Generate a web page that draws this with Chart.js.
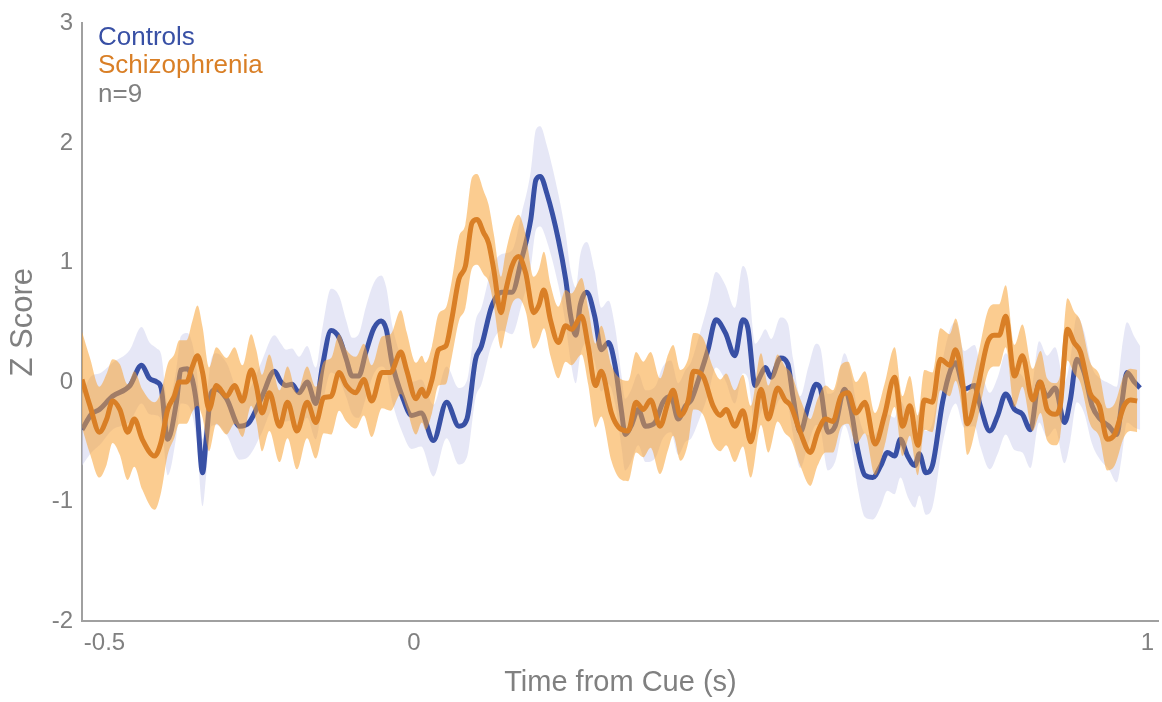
<!DOCTYPE html>
<html>
<head>
<meta charset="utf-8">
<script src="https://cdn.jsdelivr.net/npm/chart.js@4.4.1/dist/chart.umd.min.js"></script>
<style>
  html, body { margin: 0; padding: 0; background: #fff; }
  #wrap { width: 1162px; height: 702px; position: relative; }
</style>
</head>
<body>
<div id="wrap"><canvas id="zChart"></canvas></div>
<script>
// Controls: mean z score and SEM
const controlsTime = [
  -0.457,-0.444,-0.433,-0.415,-0.391,-0.375,-0.364,-0.354,-0.348,-0.339,
  -0.327,-0.321,-0.312,-0.305,-0.299,-0.291,-0.286,-0.279,-0.272,-0.258,
  -0.240,-0.227,-0.209,-0.192,-0.183,-0.176,-0.168,-0.158,-0.147,-0.135,
  -0.126,-0.114,-0.103,-0.093,-0.085,-0.076,-0.066,-0.055,-0.045,-0.038,
  -0.030,-0.016,-0.003,0.010,0.027,0.045,0.062,0.073,0.085,0.093,
  0.107,0.121,0.135,0.148,0.161,0.168,0.174,0.183,0.199,0.209,
  0.216,0.223,0.229,0.238,0.249,0.258,0.268,0.277,0.286,0.291,
  0.299,0.309,0.319,0.332,0.343,0.354,0.364,0.374,0.382,0.392,
  0.405,0.416,0.429,0.442,0.453,0.460,0.470,0.477,0.484,0.492,
  0.505,0.515,0.522,0.532,0.543,0.554,0.560,0.570,0.580,0.593,
  0.602,0.611,0.621,0.632,0.643,0.652,0.662,0.670,0.680,0.690,
  0.696,0.705,0.714,0.728,0.739,0.746,0.758,0.772,0.780,0.793,
  0.804,0.815,0.827,0.838,0.849,0.861,0.872,0.883,0.896,0.904,
  0.913,0.923,0.934,0.945,0.957,0.968,0.975,0.982,0.992,1.000
];
const controlsZ = [
  -0.40,-0.27,-0.23,-0.12,-0.03,0.14,0.03,0.00,-0.05,-0.48,
  -0.17,0.10,0.11,0.02,-0.20,-0.76,-0.48,-0.09,-0.06,-0.14,
  -0.37,-0.34,-0.12,0.09,0.00,-0.03,-0.02,-0.09,0.00,-0.18,
  0.13,0.43,0.37,0.19,0.05,0.05,0.25,0.45,0.51,0.44,
  0.16,-0.12,-0.28,-0.26,-0.49,-0.17,-0.37,-0.31,0.19,0.30,
  0.63,0.75,0.75,1.02,1.36,1.69,1.72,1.58,1.19,0.86,
  0.55,0.39,0.64,0.75,0.55,0.27,0.33,0.14,-0.25,-0.44,
  -0.37,-0.23,-0.37,-0.34,-0.17,-0.12,-0.31,-0.20,-0.15,0.02,
  0.27,0.52,0.41,0.22,0.52,0.45,-0.03,0.05,0.12,0.04,
  0.20,0.15,-0.12,-0.42,-0.20,-0.02,-0.06,-0.42,-0.37,-0.06,
  -0.23,-0.56,-0.78,-0.80,-0.70,-0.59,-0.62,-0.48,-0.62,-0.70,
  -0.60,-0.76,-0.70,-0.17,0.10,0.16,-0.06,-0.03,-0.20,-0.41,
  -0.28,-0.10,-0.23,-0.27,-0.40,0.00,-0.12,-0.05,-0.34,-0.15,
  0.19,0.08,-0.20,-0.31,-0.37,-0.44,-0.17,0.08,0.00,-0.05
];
const controlsSem = [
  0.30,0.32,0.30,0.28,0.30,0.32,0.30,0.28,0.28,0.30,
  0.28,0.28,0.30,0.30,0.30,0.28,0.30,0.28,0.30,0.30,
  0.28,0.28,0.30,0.30,0.32,0.30,0.30,0.30,0.30,0.30,
  0.32,0.35,0.35,0.32,0.32,0.35,0.38,0.38,0.38,0.35,
  0.32,0.30,0.28,0.28,0.30,0.30,0.32,0.32,0.32,0.32,
  0.32,0.32,0.35,0.38,0.40,0.42,0.42,0.40,0.38,0.38,
  0.38,0.40,0.42,0.42,0.38,0.35,0.35,0.32,0.30,0.30,
  0.30,0.30,0.30,0.30,0.30,0.30,0.30,0.30,0.32,0.35,
  0.38,0.40,0.40,0.40,0.45,0.42,0.35,0.32,0.32,0.32,
  0.34,0.34,0.32,0.30,0.32,0.34,0.34,0.32,0.30,0.30,
  0.30,0.32,0.35,0.35,0.34,0.32,0.32,0.32,0.34,0.35,
  0.35,0.35,0.35,0.35,0.35,0.34,0.32,0.34,0.34,0.32,
  0.32,0.34,0.34,0.32,0.32,0.34,0.34,0.34,0.34,0.34,
  0.36,0.34,0.32,0.34,0.36,0.40,0.45,0.42,0.38,0.35
];

// Schizophrenia: mean z score and SEM
const schizTime = [
  -0.457,-0.446,-0.433,-0.423,-0.415,-0.405,-0.394,-0.385,-0.374,-0.357,
  -0.348,-0.339,-0.330,-0.323,-0.313,-0.305,-0.298,-0.291,-0.282,-0.272,
  -0.258,-0.247,-0.236,-0.224,-0.217,-0.209,-0.199,-0.185,-0.174,-0.161,
  -0.147,-0.135,-0.124,-0.114,-0.103,-0.093,-0.080,-0.069,-0.058,-0.044,
  -0.032,-0.018,-0.010,0.003,0.011,0.016,0.025,0.034,0.044,0.052,
  0.062,0.071,0.080,0.087,0.096,0.103,0.110,0.120,0.126,0.135,
  0.144,0.154,0.165,0.172,0.179,0.188,0.199,0.209,0.217,0.231,
  0.240,0.250,0.258,0.272,0.282,0.295,0.306,0.316,0.326,0.339,
  0.350,0.357,0.367,0.378,0.385,0.398,0.412,0.422,0.430,0.442,
  0.453,0.464,0.478,0.488,0.501,0.511,0.519,0.532,0.546,0.556,
  0.567,0.577,0.588,0.598,0.609,0.621,0.635,0.648,0.662,0.673,
  0.683,0.694,0.703,0.714,0.725,0.738,0.746,0.755,0.762,0.776,
  0.790,0.799,0.806,0.815,0.827,0.838,0.852,0.863,0.872,0.883,
  0.890,0.900,0.909,0.918,0.931,0.944,0.955,0.965,0.978,0.987,
  0.996
];
const schizZ = [
  0.02,-0.20,-0.42,-0.31,-0.16,-0.23,-0.42,-0.31,-0.48,-0.62,
  -0.50,-0.23,-0.12,0.00,0.00,0.13,0.22,0.08,-0.23,-0.03,
  -0.12,-0.03,-0.16,0.10,-0.03,-0.26,-0.09,-0.37,-0.17,-0.41,
  -0.17,-0.34,-0.13,-0.12,0.08,-0.03,-0.09,0.02,-0.16,0.08,
  0.08,0.25,0.10,-0.14,-0.06,-0.12,0.02,0.27,0.30,0.52,
  0.86,0.97,1.33,1.36,1.25,1.16,0.94,0.58,0.75,0.97,
  1.05,0.91,0.58,0.64,0.77,0.52,0.33,0.47,0.44,0.55,
  0.30,-0.03,0.09,-0.26,-0.38,-0.41,-0.17,-0.23,-0.15,-0.37,
  -0.17,-0.07,-0.28,-0.15,0.09,0.05,-0.20,-0.28,-0.23,-0.37,
  -0.24,-0.50,-0.06,-0.31,-0.05,-0.15,-0.20,-0.42,-0.59,-0.42,
  -0.31,-0.33,-0.12,-0.09,-0.26,-0.17,-0.52,-0.28,0.04,-0.37,
  -0.20,-0.53,-0.15,-0.17,0.19,0.14,0.27,0.02,-0.35,-0.06,
  0.33,0.39,0.39,0.55,0.05,0.22,-0.15,0.00,-0.23,-0.27,
  -0.20,0.44,0.33,0.25,-0.09,-0.20,-0.48,-0.44,-0.20,-0.15,
  -0.16
];
const schizSem = [
  0.40,0.40,0.38,0.38,0.35,0.38,0.40,0.40,0.42,0.45,
  0.42,0.38,0.35,0.35,0.35,0.38,0.42,0.38,0.35,0.32,
  0.32,0.32,0.30,0.30,0.30,0.32,0.32,0.30,0.30,0.32,
  0.30,0.30,0.30,0.32,0.32,0.30,0.30,0.30,0.30,0.30,
  0.32,0.35,0.32,0.30,0.28,0.28,0.28,0.30,0.32,0.32,
  0.35,0.35,0.38,0.38,0.35,0.32,0.30,0.30,0.32,0.32,
  0.35,0.32,0.30,0.30,0.32,0.30,0.30,0.30,0.30,0.32,
  0.32,0.35,0.38,0.40,0.42,0.42,0.42,0.40,0.40,0.40,
  0.40,0.38,0.38,0.35,0.32,0.32,0.32,0.30,0.30,0.30,
  0.30,0.30,0.30,0.28,0.28,0.28,0.28,0.28,0.28,0.28,
  0.28,0.26,0.26,0.26,0.26,0.26,0.26,0.26,0.25,0.25,
  0.25,0.25,0.25,0.25,0.26,0.26,0.26,0.26,0.26,0.26,
  0.26,0.26,0.26,0.26,0.26,0.26,0.26,0.26,0.26,0.26,
  0.26,0.26,0.26,0.26,0.26,0.26,0.26,0.26,0.26,0.26,
  0.26
];

const xTickValues = [-0.426, 0, 1.01];   // where the figure prints its x labels
const xTickLabels = ['-0.5', '0', '1'];
const legendLabels = ['Controls', 'Schizophrenia', 'n=9'];

const BLUE = '#3850a5';
const ORANGE = '#d97f26';
const GREY = '#808080';
const FONT = '"Liberation Sans", Arial, sans-serif';

function pts(time, vals) {
  return time.map((t, i) => ({ x: t, y: vals[i] }));
}
function band(time, mean, sem, sign) {
  return time.map((t, i) => ({ x: t, y: mean[i] + sign * sem[i] }));
}

const lineBase = { pointRadius: 0, cubicInterpolationMode: 'monotone' };

// legend text in the upper-left corner
const cornerText = {
  id: 'cornerText',
  afterDraw(chart) {
    const { ctx, chartArea } = chart;
    const colors = [BLUE, ORANGE, GREY];
    ctx.save();
    ctx.font = '26px ' + FONT;
    ctx.textBaseline = 'middle';
    legendLabels.forEach((txt, i) => {
      ctx.fillStyle = colors[i];
      ctx.fillText(txt, chartArea.left + 16, chartArea.top + 14 + i * 28.5);
    });
    ctx.restore();
  }
};

new Chart(document.getElementById('zChart'), {
  type: 'line',
  data: {
    datasets: [
      { ...lineBase, data: band(controlsTime, controlsZ, controlsSem, -1), borderWidth: 0, fill: false, order: 5 },
      { ...lineBase, data: band(controlsTime, controlsZ, controlsSem, 1), borderWidth: 0,
        fill: 0, backgroundColor: 'rgba(205,208,238,0.5)', order: 4 },
      { ...lineBase, label: 'Controls', data: pts(controlsTime, controlsZ), borderColor: BLUE, borderWidth: 5, fill: false, order: 3 },
      { ...lineBase, data: band(schizTime, schizZ, schizSem, -1), borderWidth: 0, fill: false, order: 2 },
      { ...lineBase, data: band(schizTime, schizZ, schizSem, 1), borderWidth: 0,
        fill: 3, backgroundColor: 'rgba(247,162,52,0.55)', order: 1 },
      { ...lineBase, label: 'Schizophrenia', data: pts(schizTime, schizZ), borderColor: ORANGE, borderWidth: 5, fill: false, order: 0 }
    ]
  },
  options: {
    responsive: true,
    maintainAspectRatio: false,
    animation: false,
    layout: { padding: { top: 20, right: 0, left: 0, bottom: 0 } },
    plugins: { legend: { display: false }, tooltip: { enabled: false } },
    scales: {
      x: {
        type: 'linear',
        min: -0.457,
        max: 1.026,
        grid: { display: false, drawTicks: false },
        border: { color: '#a0a0a0', width: 2 },
        afterBuildTicks: s => { s.ticks = xTickValues.map(v => ({ value: v })); },
        afterFit: s => { s.height = 81; },
        ticks: {
          autoSkip: false, maxRotation: 0, padding: 8,
          color: GREY, font: { size: 24, family: FONT },
          callback: (v, i) => xTickLabels[i]
        },
        title: {
          display: true, text: 'Time from Cue (s)', color: GREY,
          font: { size: 29, family: FONT }, padding: { top: 0, bottom: 2 }
        }
      },
      y: {
        min: -2,
        max: 3,
        grid: { display: false, drawTicks: false },
        border: { color: '#a0a0a0', width: 2 },
        afterFit: s => { s.width = 82; },
        ticks: { stepSize: 1, padding: 9, color: GREY, font: { size: 24, family: FONT } },
        title: {
          display: true, text: 'Z Score', color: GREY,
          font: { size: 31, family: FONT }, padding: { top: 5, bottom: 0 }
        }
      }
    }
  },
  plugins: [cornerText]
});
</script>
</body>
</html>
